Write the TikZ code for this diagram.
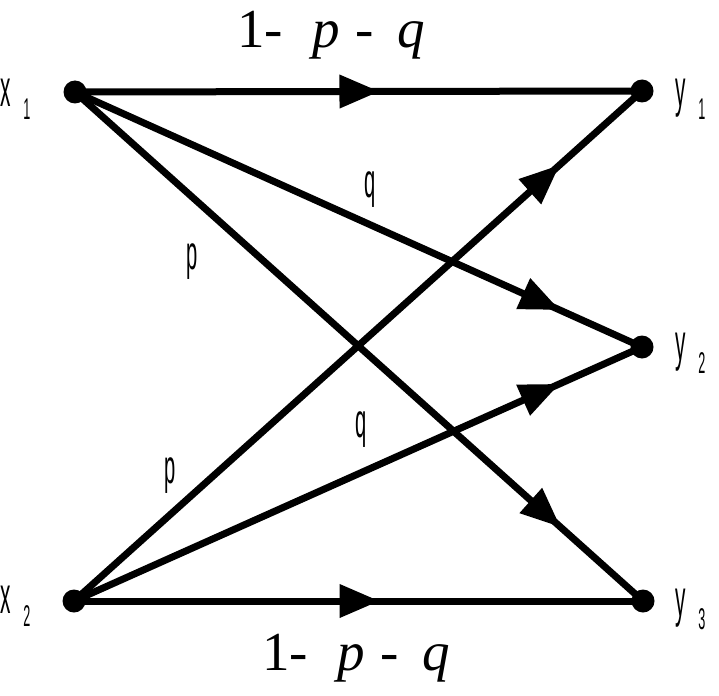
\documentclass[tikz,border=0pt]{standalone}
\usepackage{fontspec}
\setmainfont{Liberation Serif}
\newfontfamily\lblfont{Liberation Sans}
\usetikzlibrary{arrows.meta,decorations.markings}
\newcommand{\nlbl}[1]{{\lblfont\fontsize{48}{48}\selectfont\scalebox{0.42}[1]{#1}}}
\newcommand{\vlbl}[2]{{\lblfont\fontsize{52}{52}\selectfont\scalebox{0.4}[1]{#1}\hspace{13pt}\raisebox{-13pt}{\fontsize{30}{30}\selectfont\scalebox{0.42}[1]{#2}}}}
\newcommand{\plbl}{{\fontsize{55}{55}\selectfont 1-\hspace{30pt}\textit{p}\hspace{15pt}-\hspace{24pt}\textit{q}}}
\begin{document}
\begin{tikzpicture}[x=1pt,y=-1pt,
  dot/.style={circle,fill=black,inner sep=0pt,minimum size=23pt},
  wire/.style={line width=7pt},
  arrowat/.style={postaction={decorate},decoration={markings,mark=at position #1 with {\arrow{Triangle[length=40pt,width=32pt]}}}},
  txt/.style={inner sep=0pt,outer sep=0pt}]
\useasboundingbox (0,0) rectangle (719,695);
\node[dot] (x1) at (75,92) {};
\node[dot] (x2) at (74,601) {};
\node[dot] (y1) at (642,91) {};
\node[dot] (y2) at (642,347) {};
\node[dot] (y3) at (643,601) {};
\draw[wire,arrowat=0.537] (x1.center) -- (y1.center);
\draw[wire,arrowat=0.855] (x1.center) -- (y2.center);
\draw[wire,arrowat=0.855] (x1.center) -- (y3.center);
\draw[wire,arrowat=0.855] (x2.center) -- (y1.center);
\draw[wire,arrowat=0.855] (x2.center) -- (y2.center);
\draw[wire,arrowat=0.537] (x2.center) -- (y3.center);
\node[txt,anchor=base west] (lx1) at (0,107) {\vlbl{x}{1}};
\node[txt,anchor=base west] (lx2) at (0,613) {\vlbl{x}{2}};
\node[txt,anchor=base west] (ly1) at (675,107) {\vlbl{y}{1}};
\node[txt,anchor=base west] (ly2) at (675,360) {\vlbl{y}{2}};
\node[txt,anchor=base west] (ly3) at (675,616) {\vlbl{y}{3}};
\node[txt] (q1) at (370,190) {\nlbl{q}};
\node[txt] (p1) at (192,262) {\nlbl{p}};
\node[txt] (p2) at (170,476) {\nlbl{p}};
\node[txt] (q2) at (361,430) {\nlbl{q}};
\node[txt,anchor=base west] (top) at (237,48) {\plbl};
\node[txt,anchor=base west] (bot) at (262,670) {\plbl};
\end{tikzpicture}
\end{document}
